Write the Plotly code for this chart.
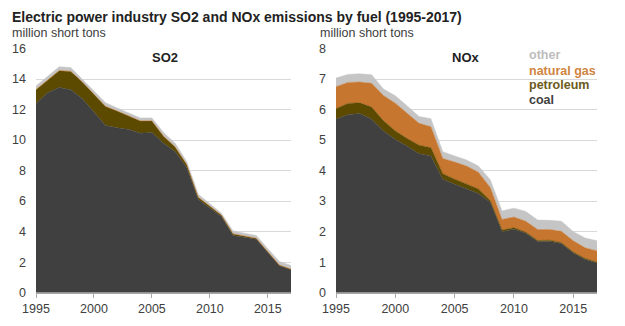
import plotly.graph_objects as go

years = list(range(1995, 2018))

# SO2 (million short tons) by fuel
so2_coal = [12.4, 13.1, 13.45, 13.3, 12.7, 11.85, 10.95, 10.8, 10.7, 10.45, 10.5, 9.8,
            9.25, 8.2, 6.1, 5.55, 5.0, 3.75, 3.62, 3.5, 2.63, 1.76, 1.5]
so2_petroleum = [0.9, 0.85, 1.1, 1.2, 1.1, 1.15, 1.25, 1.1, 0.9, 0.8, 0.75, 0.45,
                 0.3, 0.2, 0.15, 0.1, 0.08, 0.1, 0.08, 0.06, 0.05, 0.04, 0.04]
so2_gas = [0.01] * 23
so2_other = [0.24, 0.24, 0.24, 0.24, 0.19, 0.19, 0.24, 0.19, 0.19, 0.19, 0.19, 0.24,
             0.24, 0.19, 0.19, 0.14, 0.11, 0.19, 0.19, 0.18, 0.19, 0.24, 0.23]

# NOx (million short tons) by fuel
nox_coal = [5.68, 5.83, 5.87, 5.68, 5.3, 5.02, 4.8, 4.55, 4.48, 3.72, 3.55, 3.4,
            3.25, 2.96, 2.0, 2.08, 1.95, 1.68, 1.68, 1.61, 1.3, 1.09, 0.97]
nox_petroleum = [0.35, 0.37, 0.35, 0.4, 0.33, 0.28, 0.25, 0.28, 0.27, 0.18, 0.17, 0.17,
                 0.15, 0.06, 0.05, 0.05, 0.03, 0.03, 0.04, 0.03, 0.03, 0.03, 0.03]
nox_gas = [0.72, 0.69, 0.68, 0.78, 0.83, 0.91, 0.83, 0.72, 0.69, 0.5, 0.56, 0.58,
           0.55, 0.43, 0.35, 0.35, 0.36, 0.36, 0.35, 0.37, 0.37, 0.35, 0.37]
nox_other = [0.28, 0.26, 0.27, 0.28, 0.21, 0.24, 0.24, 0.22, 0.26, 0.22, 0.2, 0.2,
             0.2, 0.25, 0.28, 0.29, 0.32, 0.31, 0.3, 0.33, 0.3, 0.32, 0.33]

fuels = ["coal", "petroleum", "natural gas", "other"]
fill_colors = ["#404040", "#5c4a00", "#c6762f", "#c5c5c5"]
text_colors = ["#404040", "#6b5a1a", "#d0853f", "#bdbdbd"]

FONT = "Liberation Sans, Arial, sans-serif"

fig = go.Figure()

so2_series = [so2_coal, so2_petroleum, so2_gas, so2_other]
nox_series = [nox_coal, nox_petroleum, nox_gas, nox_other]

for name, vals, col in zip(fuels, so2_series, fill_colors):
    fig.add_trace(go.Scatter(x=years, y=vals, name=name, stackgroup="so2",
                             mode="lines", line=dict(width=0.5, color=col),
                             fillcolor=col, xaxis="x", yaxis="y", showlegend=False))
for name, vals, col in zip(fuels, nox_series, fill_colors):
    fig.add_trace(go.Scatter(x=years, y=vals, name=name, stackgroup="nox",
                             mode="lines", line=dict(width=0.5, color=col),
                             fillcolor=col, xaxis="x2", yaxis="y2", showlegend=False))

W, H = 625, 326
def px(x):
    return x / W
def py(y):
    return 1 - y / H

ybot, ytop = py(292.7), py(48.5)

axis_common = dict(showgrid=False, showline=True, linecolor="#a6a6a6", linewidth=1,
                   ticks="outside", ticklen=4, tickcolor="#a6a6a6", automargin=False,
                   tickfont=dict(family=FONT, size=12.5, color="#404040"),
                   range=[1995, 2017], tick0=1995, dtick=5, zeroline=False)
yaxis_common = dict(showgrid=True, gridcolor="#d9d9d9", gridwidth=1, showline=False,
                    ticks="", zeroline=False, ticklabelstandoff=9, automargin=False,
                    tickfont=dict(family=FONT, size=12.5, color="#404040"))

fig.update_layout(
    width=W, height=H,
    margin=dict(l=0, r=0, t=0, b=0),
    paper_bgcolor="white", plot_bgcolor="white",
    xaxis=dict(domain=[px(36), px(291)], anchor="y", **axis_common),
    yaxis=dict(domain=[ybot, ytop], anchor="x", range=[0, 16], dtick=2, **yaxis_common),
    xaxis2=dict(domain=[px(336), px(597)], anchor="y2", **axis_common),
    yaxis2=dict(domain=[ybot, ytop], anchor="x2", range=[0, 8], dtick=1, **yaxis_common),
    showlegend=False,
)

annos = [
    dict(text="<b>Electric power industry SO2 and NOx emissions by fuel (1995-2017)</b>",
         x=px(10), y=py(17), xanchor="left", yanchor="middle",
         font=dict(family=FONT, size=14, color="#222222")),
    dict(text="million short tons", x=px(10), y=py(33), xanchor="left", yanchor="middle",
         font=dict(family=FONT, size=12.5, color="#404040")),
    dict(text="million short tons", x=px(318), y=py(33), xanchor="left", yanchor="middle",
         font=dict(family=FONT, size=12.5, color="#404040")),
    dict(text="<b>SO2</b>", x=px(165), y=py(57), xanchor="center", yanchor="middle",
         font=dict(family=FONT, size=13, color="#222222")),
    dict(text="<b>NOx</b>", x=px(466), y=py(57), xanchor="center", yanchor="middle",
         font=dict(family=FONT, size=13, color="#222222")),
]
legend_y = {"other": 55, "natural gas": 71, "petroleum": 85.5, "coal": 100}
for name, col in zip(fuels, text_colors):
    annos.append(dict(text="<b>" + name + "</b>", x=px(527), y=py(legend_y[name]),
                      xanchor="left", yanchor="middle",
                      font=dict(family=FONT, size=12.5, color=col)))
for a in annos:
    a.update(xref="paper", yref="paper", showarrow=False)
fig.update_layout(annotations=annos)

fig.write_html("out.html")
